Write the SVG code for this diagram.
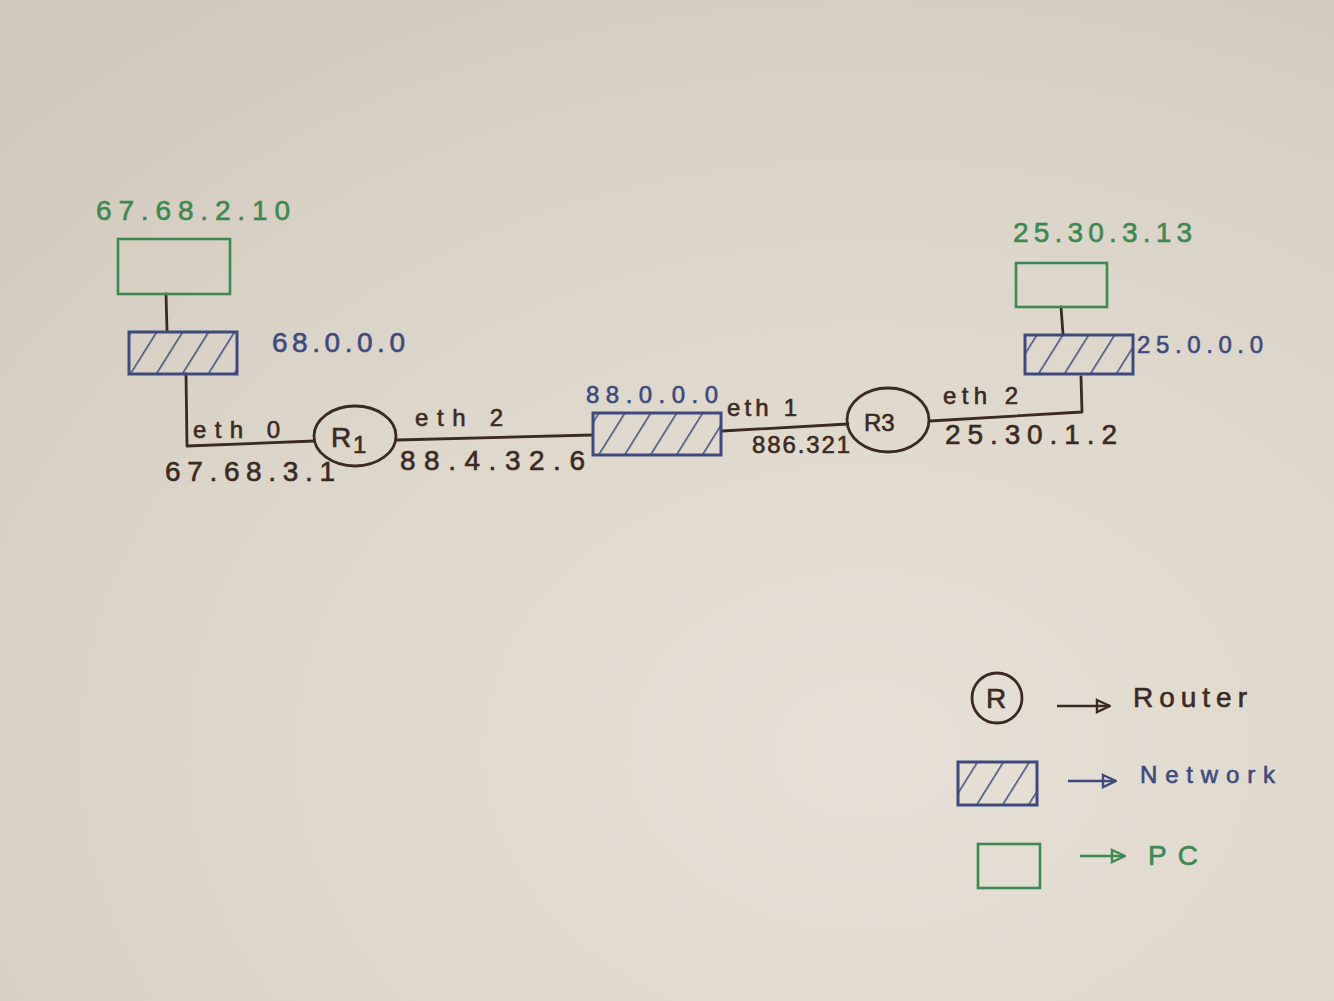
<svg xmlns="http://www.w3.org/2000/svg" width="1334" height="1001" viewBox="0 0 1334 1001">
<defs>
<radialGradient id="paper" cx="0.65" cy="0.75" r="0.9">
<stop offset="0" stop-color="#e6e0d6"/>
<stop offset="0.6" stop-color="#dcd5c9"/>
<stop offset="1" stop-color="#d2c9bc"/>
</radialGradient>
<pattern id="hatch" patternUnits="userSpaceOnUse" width="22" height="40" patternTransform="rotate(32)">
<line x1="0" y1="0" x2="0" y2="40" stroke="#3e4a7e" stroke-width="3"/>
</pattern>
<marker id="tri" viewBox="0 0 16 16" refX="15" refY="8" markerWidth="16" markerHeight="16" markerUnits="userSpaceOnUse" orient="auto">
<path d="M2,2 L15,8 L2,14 Z" fill="none" stroke="context-stroke" stroke-width="2.4"/>
</marker>
</defs>
<style>
.wire{fill:none;stroke:#3b2a22;stroke-width:2.8;stroke-linecap:round;stroke-linejoin:round}
.net{fill:url(#hatch);stroke:#3e4a7e;stroke-width:3}
.pc{fill:none;stroke:#3c8a52;stroke-width:2.6}
.router{fill:none;stroke:#3b2a22;stroke-width:2.8}
.t{font-family:"Liberation Sans",Arial,sans-serif;font-size:24px;fill:#3b2a22;stroke:#3b2a22;stroke-width:0.6}
.g{fill:#3c8a52;stroke:#3c8a52}
.b{fill:#3e4a7e;stroke:#3e4a7e}
.big{font-size:28px}
</style>
<rect width="1334" height="1001" fill="url(#paper)"/>

<g id="connectors">
<path class="wire" d="M166,294 L167,331" stroke="#35466e"/>
<path class="wire" d="M186,374 L187,446 L314,441"/>
<path class="wire" d="M397,440 L592,435"/>
<path class="wire" d="M722,431 L848,424"/>
<path class="wire" d="M930,421 L1082,412 L1081,377"/>
<path class="wire" d="M1061,307 L1063,334" stroke="#3c8a52"/>
</g>

<g id="pc1">
<rect class="pc" x="118" y="239" width="112" height="55"/>
<text class="t g big" x="96" y="220" textLength="194" lengthAdjust="spacing">67.68.2.10</text>
</g>

<g id="net1">
<rect class="net" x="129" y="332" width="108" height="42"/>
<text class="t b big" x="272" y="352" textLength="133" lengthAdjust="spacing">68.0.0.0</text>
</g>

<g id="r1">
<ellipse class="router" cx="355" cy="436" rx="41" ry="30"/>
<text class="t big" x="331" y="447">R</text>
<text class="t" x="353" y="453" font-size="20">1</text>
<text class="t" x="193" y="438" textLength="87" lengthAdjust="spacing">eth 0</text>
<text class="t big" x="165" y="481" textLength="170" lengthAdjust="spacing">67.68.3.1</text>
<text class="t" x="415" y="426" textLength="88" lengthAdjust="spacing">eth 2</text>
<text class="t big" x="400" y="470" textLength="185" lengthAdjust="spacing">88.4.32.6</text>
</g>

<g id="net2">
<rect class="net" x="593" y="413" width="128" height="42"/>
<text class="t b" x="586" y="403" textLength="132" lengthAdjust="spacing">88.0.0.0</text>
</g>

<g id="r3">
<ellipse class="router" cx="888" cy="420" rx="41" ry="32"/>
<text class="t" x="864" y="431">R3</text>
<text class="t" x="727" y="416" textLength="70" lengthAdjust="spacing">eth 1</text>
<text class="t" x="752" y="453" font-size="20" textLength="98" lengthAdjust="spacing">886.321</text>
<text class="t" x="943" y="404" textLength="75" lengthAdjust="spacing">eth 2</text>
<text class="t big" x="945" y="444" textLength="172" lengthAdjust="spacing">25.30.1.2</text>
</g>

<g id="net3">
<rect class="net" x="1025" y="335" width="108" height="39"/>
<text class="t b" x="1137" y="353" textLength="126" lengthAdjust="spacing">25.0.0.0</text>
</g>

<g id="pc2">
<rect class="pc" x="1016" y="263" width="91" height="44"/>
<text class="t g big" x="1013" y="242" textLength="179" lengthAdjust="spacing">25.30.3.13</text>
</g>

<g id="legend">
<circle class="router" cx="997" cy="698" r="25"/>
<text class="t big" x="986" y="708">R</text>
<line x1="1057" y1="706" x2="1110" y2="706" stroke="#3b2a22" stroke-width="2.6" marker-end="url(#tri)"/>
<text class="t big" x="1133" y="707" textLength="114" lengthAdjust="spacing">Router</text>
<rect class="net" x="958" y="762" width="79" height="43"/>
<line x1="1068" y1="781" x2="1116" y2="781" stroke="#3e4a7e" stroke-width="2.6" marker-end="url(#tri)"/>
<text class="t b" x="1140" y="783" textLength="135" lengthAdjust="spacing">Network</text>
<rect class="pc" x="978" y="844" width="62" height="44"/>
<line x1="1080" y1="856" x2="1125" y2="856" stroke="#3c8a52" stroke-width="2.6" marker-end="url(#tri)"/>
<text class="t g big" x="1148" y="865" textLength="50" lengthAdjust="spacing">PC</text>
</g>
</svg>
